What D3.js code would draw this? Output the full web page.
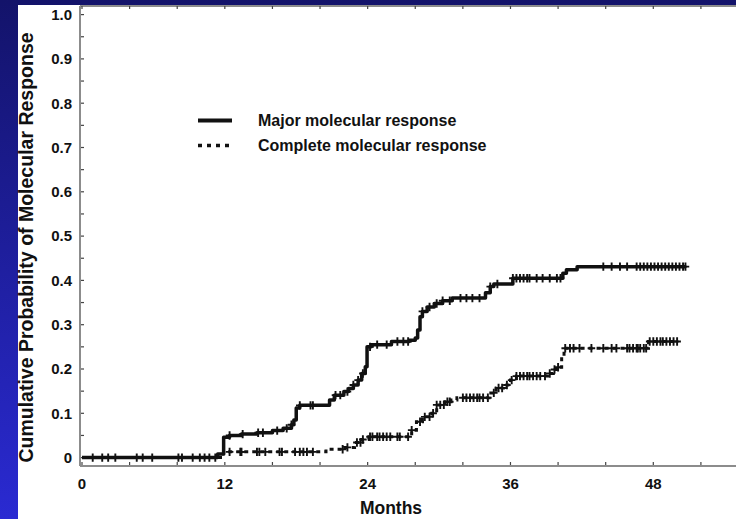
<!DOCTYPE html>
<html>
<head>
<meta charset="utf-8">
<script src="https://cdn.jsdelivr.net/npm/d3@7"></script>
<style>
  html, body { margin: 0; padding: 0; background: #14146a; }
  svg { display: block; }
  text { font-family: "Liberation Sans", Arial, sans-serif; font-weight: bold; fill: #111; }
</style>
</head>
<body>
<svg id="chart" width="736" height="519"></svg>
<script>
// Kaplan-Meier style cumulative incidence of molecular response

// Major molecular response: step times (months) and cumulative probability
const mmrMonths = [0, 11.4, 11.9, 12.4, 13.4, 14.7, 16.0, 16.9, 17.6, 17.8, 18.0, 18.3,
  20.8, 21.2, 22.0, 22.4, 22.8, 23.2, 23.5, 23.8, 23.95, 24.3, 26.0, 27.5,
  28.0, 28.2, 28.4, 28.6, 29.0, 29.6, 30.3, 31.1, 33.9, 34.3, 34.6, 36.2,
  40.4, 40.7, 41.6];
const mmrProb = [0, 0.008, 0.046, 0.050, 0.053, 0.056, 0.061, 0.066, 0.074, 0.085, 0.112, 0.118,
  0.130, 0.141, 0.149, 0.156, 0.164, 0.175, 0.190, 0.205, 0.250, 0.255, 0.262, 0.265,
  0.270, 0.288, 0.318, 0.330, 0.340, 0.348, 0.354, 0.360, 0.372, 0.386, 0.392, 0.405,
  0.416, 0.424, 0.431];
const mmrEnd = 50.7;
const mmrCensored = [0.9, 1.7, 2.2, 2.8, 4.6, 5.1, 5.9, 8.1, 8.4, 9.3, 9.9, 10.3, 10.7, 11.2,
  12.4, 13.5, 14.8, 15.2, 16.4, 17.2, 17.6, 18.3, 19.2, 19.4,
  21.3, 21.7, 22.3, 22.8, 23.2, 23.6, 24.2, 24.8, 25.6, 26.5, 27.0, 27.4,
  28.6, 29.2, 29.8, 30.3, 30.9, 31.8, 32.3, 32.8, 33.4, 34.3, 34.9,
  36.2, 36.5, 36.8, 37.1, 37.4, 37.6, 38.2, 38.7, 39.3, 39.9, 40.2,
  43.8, 44.5, 45.2, 45.8, 46.6, 46.9, 47.2, 47.5, 47.8, 48.1, 48.4, 48.7,
  49.0, 49.3, 49.6, 49.9, 50.2, 50.5, 50.7];

// Complete molecular response
const cmrMonths = [0, 11.9, 20.5, 22.0, 22.9, 23.5, 24.1, 27.7, 28.1, 28.6, 29.4, 29.8,
  30.5, 31.0, 31.5, 34.2, 34.8, 35.4, 36.0, 36.5, 39.1, 39.6, 40.0, 40.3, 40.5, 47.6];
const cmrProb = [0, 0.013, 0.019, 0.023, 0.034, 0.041, 0.047, 0.062, 0.081, 0.092, 0.100, 0.119,
  0.126, 0.130, 0.135, 0.146, 0.157, 0.164, 0.175, 0.184, 0.190, 0.199, 0.204, 0.228, 0.247, 0.262];
const cmrEnd = 50.1;
const cmrCensored = [12.4, 13.3, 13.4, 14.7, 14.9, 15.4, 16.6, 16.8, 17.9, 18.3, 18.6, 18.9, 19.4,
  21.9, 22.3, 23.1, 23.4, 23.6, 24.2, 24.4, 24.8, 25.0, 25.3, 25.6, 25.9, 26.5, 26.7, 27.4, 27.7,
  28.4, 28.8, 29.2, 29.5, 29.8, 30.1, 30.4, 30.7, 30.9, 32.0, 32.3, 32.6, 32.9, 33.2, 33.4, 33.7,
  34.1, 34.6, 35.0, 35.3, 35.7, 36.1, 36.5, 36.8, 37.1, 37.4, 37.6, 37.9, 38.2, 38.5, 38.9,
  39.3, 39.7, 40.0, 40.6, 41.0, 41.3, 41.8, 42.8, 43.8, 44.5, 44.9, 45.8, 46.0, 46.3, 46.6,
  46.7, 46.9, 47.2, 47.4, 47.7, 48.0, 48.3, 48.6, 48.8, 49.1, 49.4, 49.7, 50.0];

// Axis ticks
const xTickMonths = d3.range(0, 56, 4);
const xLabelMonths = [0, 12, 24, 36, 48];
const yTickValues = d3.range(0, 1.001, 0.05);
const yLabelValues = [0, 0.1, 0.2, 0.3, 0.4, 0.5, 0.6, 0.7, 0.8, 0.9, 1.0];

const legendLabels = ["Major molecular response", "Complete molecular response"];
const xTitle = "Months";
const yTitle = "Cumulative Probability of Molecular Response";

const W = 736, H = 519;
const svg = d3.select("#chart");

// slide background: navy to bright blue
const defs = svg.append("defs");
const grad = defs.append("linearGradient").attr("id", "bg")
  .attr("x1", 0).attr("y1", 0).attr("x2", 0).attr("y2", 1);
grad.append("stop").attr("offset", 0).attr("stop-color", "#13136a");
grad.append("stop").attr("offset", 1).attr("stop-color", "#2a2ad2");
svg.append("rect").attr("width", W).attr("height", H).attr("fill", "url(#bg)");

// white panel
const panel = { left: 18, top: 5 };
svg.append("rect").attr("x", panel.left).attr("y", panel.top)
  .attr("width", W - panel.left).attr("height", H - panel.top).attr("fill", "#ffffff");

// scales
const x = d3.scaleLinear().domain([0, 48]).range([82, 653.3]);
const y = d3.scaleLinear().domain([0, 1]).range([457.6, 14.6]);
const frame = { left: 80, right: W, top: 6, bottom: 466 };

const g = svg.append("g");

// frame lines
const axisColor = "#8c8c8c";
g.append("line").attr("x1", frame.left).attr("x2", frame.right).attr("y1", frame.bottom).attr("y2", frame.bottom)
  .attr("stroke", axisColor).attr("stroke-width", 2);
g.append("line").attr("x1", frame.left).attr("x2", frame.right).attr("y1", frame.top).attr("y2", frame.top)
  .attr("stroke", "#666").attr("stroke-width", 1.5);
g.append("line").attr("x1", frame.left).attr("x2", frame.left).attr("y1", frame.top).attr("y2", frame.bottom)
  .attr("stroke", axisColor).attr("stroke-width", 2);

// x ticks (bottom, pointing inward) and top ticks
g.selectAll(".xt").data(xTickMonths).join("line")
  .attr("x1", d => x(d)).attr("x2", d => x(d))
  .attr("y1", frame.bottom - 1).attr("y2", frame.bottom - 4)
  .attr("stroke", "#444").attr("stroke-width", 1.2);
g.selectAll(".xtt").data(xTickMonths).join("line")
  .attr("x1", d => x(d)).attr("x2", d => x(d))
  .attr("y1", frame.top).attr("y2", frame.top + 3)
  .attr("stroke", "#444").attr("stroke-width", 1.2);

// x labels
g.selectAll(".xl").data(xLabelMonths).join("text")
  .attr("x", d => x(d)).attr("y", 488.5)
  .attr("text-anchor", "middle").style("font-size", "15px")
  .text(d => d);

// y ticks
g.selectAll(".yt").data(yTickValues).join("line")
  .attr("x1", frame.left + 1).attr("x2", frame.left + 4)
  .attr("y1", d => y(d)).attr("y2", d => y(d))
  .attr("stroke", "#444").attr("stroke-width", 1.2);

g.selectAll(".yl").data(yLabelValues).join("text")
  .attr("x", 72).attr("y", d => y(d) + 5.3)
  .attr("text-anchor", "end").style("font-size", "15px")
  .text(d => d === 0 ? "0" : d3.format(".1f")(d));

// titles
g.append("text").attr("x", 391).attr("y", 514)
  .attr("text-anchor", "middle").style("font-size", "17.5px").text(xTitle);
g.append("text").attr("transform", "translate(33,247.5) rotate(-90)")
  .attr("text-anchor", "middle").style("font-size", "19.5px").text(yTitle);

// curves
function stepPoints(months, probs, end) {
  const pts = months.map((m, i) => [m, probs[i]]);
  pts.push([end, probs[probs.length - 1]]);
  return pts;
}
function valueAt(months, probs, t) {
  let v = 0;
  months.forEach((m, i) => { if (m <= t) v = probs[i]; });
  return v;
}
const line = d3.line().x(d => x(d[0])).y(d => y(d[1])).curve(d3.curveStepAfter);

g.append("path").datum(stepPoints(cmrMonths, cmrProb, cmrEnd))
  .attr("d", line).attr("fill", "none").attr("stroke", "#111")
  .attr("stroke-width", 3).attr("stroke-dasharray", "4,4");

g.append("path").datum(stepPoints(mmrMonths, mmrProb, mmrEnd))
  .attr("d", line).attr("fill", "none").attr("stroke", "#111")
  .attr("stroke-width", 3.5).attr("stroke-linejoin", "round");

// censoring marks
const cross = "M-3.8,0H3.8M0,-4.2V4.2";
g.selectAll(".mc").data(mmrCensored).join("path")
  .attr("transform", d => `translate(${x(d)},${y(valueAt(mmrMonths, mmrProb, d))})`)
  .attr("d", cross).attr("stroke", "#111").attr("stroke-width", 1.9).attr("fill", "none");
g.selectAll(".cc").data(cmrCensored).join("path")
  .attr("transform", d => `translate(${x(d)},${y(valueAt(cmrMonths, cmrProb, d))})`)
  .attr("d", cross).attr("stroke", "#111").attr("stroke-width", 1.9).attr("fill", "none");

// legend
const legend = g.append("g");
const legendY = [120.5, 145.5];
legend.append("line").attr("x1", 198).attr("x2", 232).attr("y1", legendY[0]).attr("y2", legendY[0])
  .attr("stroke", "#111").attr("stroke-width", 4);
legend.append("line").attr("x1", 198).attr("x2", 232).attr("y1", legendY[1]).attr("y2", legendY[1])
  .attr("stroke", "#111").attr("stroke-width", 3.5).attr("stroke-dasharray", "4,5");
legend.selectAll("text").data(legendLabels).join("text")
  .attr("x", 258).attr("y", (d, i) => legendY[i] + 5.5)
  .style("font-size", "16px").text(d => d);
</script>
</body>
</html>
